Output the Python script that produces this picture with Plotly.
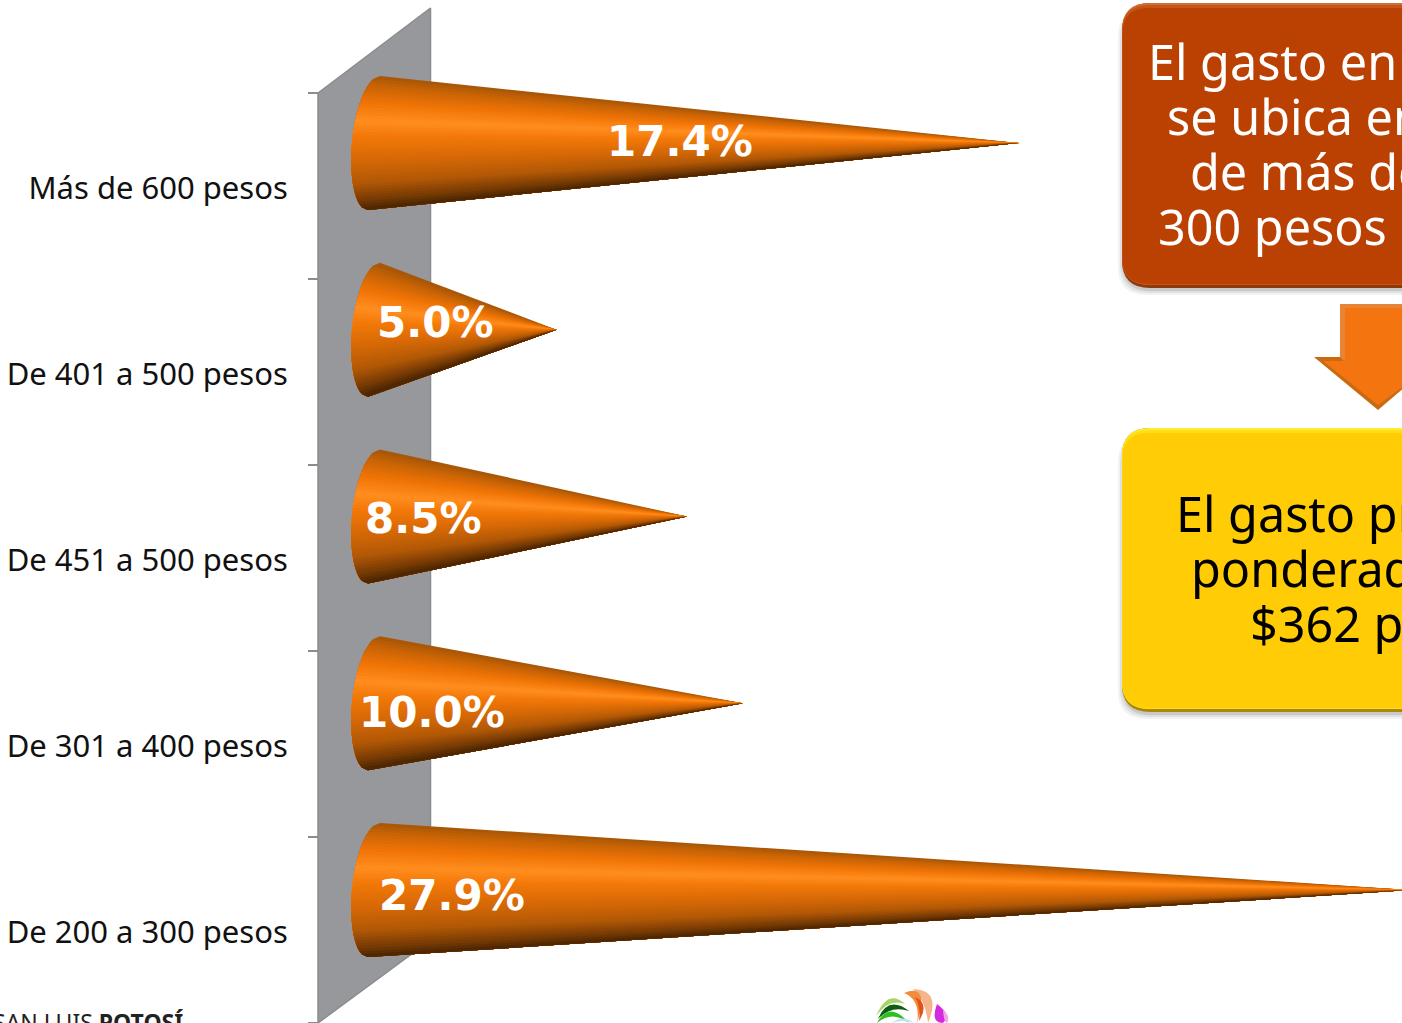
import plotly.graph_objects as go

# ---- data ----
categories = ["De 200 a 300 pesos", "De 301 a 400 pesos", "De 451 a 500 pesos",
              "De 401 a 500 pesos", "Más de 600 pesos"]
values = [27.9, 10.0, 8.5, 5.0, 17.4]
value_labels = ["27.9%", "10.0%", "8.5%", "5.0%", "17.4%"]
label_x_values = [2.2, 1.67, 1.43, 1.75, 8.3]
label_y_offsets = [-0.03, -0.05, -0.01, 0.04, 0.01]

box1_lines = ["El gasto en", "se ubica en", "de más de", "300 pesos"]
box2_lines = ["El gasto promedio", "ponderado", "$362 pesos"]

# ---- layout constants ----
W, H = 1402, 1023
PX_PER_VAL = 37.3
X0_PX = 370
PX_PER_CAT = 186.75
Y0_PX = 890


def xd(px):
    return (px - X0_PX) / PX_PER_VAL


def yd(px):
    return (Y0_PX - px) / PX_PER_CAT


def xp(px):
    return px / W


def yp(px):
    return 1 - px / H


def lerp_color(stops, f):
    for (a, ca), (b, cb) in zip(stops, stops[1:]):
        if f <= b:
            t = (f - a) / (b - a)
            c = [round(ca[k] + (cb[k] - ca[k]) * t) for k in range(3)]
            return f"rgb({c[0]},{c[1]},{c[2]})"
    c = stops[-1][1]
    return f"rgb({c[0]},{c[1]},{c[2]})"


GRAD = [(0.0, (165, 86, 8)), (0.07, (200, 100, 5)), (0.2, (240, 116, 6)), (0.33, (255, 142, 30)),
        (0.45, (242, 120, 8)), (0.62, (215, 105, 6)), (0.8, (178, 88, 6)),
        (0.93, (118, 58, 4)), (1.0, (72, 36, 2))]

fig = go.Figure()

# wall
wall_x = [xd(318), xd(430.5), xd(430.5), xd(318), xd(318)]
wall_y = [yd(93), yd(8), yd(940), yd(1023), yd(93)]
fig.add_trace(go.Scatter(x=wall_x, y=wall_y, mode="lines", fill="toself", fillcolor="#97989C",
                         line=dict(color="#8B8C90", width=1.5), hoverinfo="skip", showlegend=False))

# cones: painted top to bottom, each layer reaching down to the cone's lower edge
BANDS = 48
HALF = 67 / PX_PER_CAT
CX = (374 - X0_PX) / PX_PER_VAL
DEPTH = 22 / PX_PER_VAL
TILT = 6 / PX_PER_VAL


def base_point(i, s):
    c = max(0.0, 1 - s * s) ** 0.5
    return CX - DEPTH * c + TILT * s, i + HALF * s


for i, v in enumerate(values):
    for b in range(BANDS):
        s1 = 1 - 2 * b / BANDS
        steps = BANDS - b
        pts = [base_point(i, s1 - (s1 + 1) * k / steps) for k in range(steps + 1)]
        xs = [p[0] for p in pts] + [v, pts[0][0]]
        ys = [p[1] for p in pts] + [i, pts[0][1]]
        col = lerp_color(GRAD, (b + 0.5) / BANDS)
        fig.add_trace(go.Scatter(x=xs, y=ys, mode="lines", fill="toself", fillcolor=col,
                                 line=dict(width=0), hoverinfo="skip", showlegend=False))

# helper trace for the boundary ticks
fig.add_trace(go.Scatter(x=[0], y=[0], yaxis="y2", mode="markers", marker=dict(opacity=0),
                         hoverinfo="skip", showlegend=False))

shapes = []


def rrect(x0, y0, x1, y1, r):
    X0, X1 = xp(x0), xp(x1)
    Y0, Y1 = yp(y0), yp(y1)
    rx, ry = r / W, r / H
    return (f"M {X0 + rx} {Y0} L {X1 - rx} {Y0} Q {X1} {Y0} {X1} {Y0 - ry} L {X1} {Y1 + ry} "
            f"Q {X1} {Y1} {X1 - rx} {Y1} L {X0 + rx} {Y1} Q {X0} {Y1} {X0} {Y1 + ry} L {X0} {Y0 - ry} "
            f"Q {X0} {Y0} {X0 + rx} {Y0} Z")


def add(path, fill, opacity=1.0):
    shapes.append(dict(type="path", xref="paper", yref="paper", path=path, fillcolor=fill,
                       opacity=opacity, line=dict(width=0), layer="above"))


def poly(points):
    return "M " + " L ".join(f"{xp(a)} {yp(b)}" for a, b in points) + " Z"


def crescent(p0, c1, p1, c2, fill):
    path = "M %f %f Q %f %f %f %f Q %f %f %f %f Z" % (
        xp(p0[0]), yp(p0[1]), xp(c1[0]), yp(c1[1]), xp(p1[0]), yp(p1[1]),
        xp(c2[0]), yp(c2[1]), xp(p0[0]), yp(p0[1]))
    add(path, fill)


def box(y0, y1, base, top, mid, bottom):
    for d, op in ((7, 0.05), (5, 0.07), (3, 0.10)):
        add(rrect(1122 - d + 3, y0 + 6, 1460, y1 + d, 28), "#000000", op)
    add(rrect(1122, y0, 1460, y1, 28), bottom)
    add(rrect(1122, y0, 1460, y1 - 3, 28), top)
    add(rrect(1122, y0 + 2, 1460, y1 - 3, 27), mid)
    add(rrect(1122.5, y0 + 5, 1460, y1 - 4, 26), base)


box(3, 288, "#BB4103", "#D07030", "#C4551A", "#8A3A0C")
box(428, 712, "#FFCC05", "#FFEC30", "#FFDC18", "#A98708")

# arrow
add(poly([(1340, 304), (1440, 304), (1440, 357), (1378, 410), (1314, 357), (1340, 357)]), "#C76A12")
add(poly([(1340, 304), (1402, 304), (1402, 308), (1345, 308), (1345, 362), (1340, 357)]), "#E88436")
add(poly([(1345, 308), (1440, 308), (1440, 360), (1378, 405), (1323, 361), (1345, 361)]), "#F47410")

# logo
crescent((876, 1016), (888, 988), (905, 1004), (889, 998), "#A9D468")
crescent((878, 1019), (888, 995), (909, 1011), (891, 1005), "#0F5C14")
crescent((877, 1023), (889, 1000), (909, 1023), (892, 1010), "#2FBF1E")
crescent((892, 1023), (902, 1014), (914, 1023), (902, 1019), "#BDE3F2")
crescent((913, 989), (942, 990), (928, 1023), (926, 1001), "#F5B48A")
crescent((904, 993), (930, 982), (917, 1023), (921, 1000), "#F28B3C")
crescent((915, 997), (930, 1003), (919, 1021), (921, 1007), "#E2531A")
crescent((937, 1004), (952, 1015), (943, 1023), (930, 1023), "#D42BE0")
crescent((943, 1010), (951, 1016), (947, 1023), (944, 1023), "#F0A6E8")

annotations = []


def text(x, y, s, size, color, anchor="left", family="Noto Sans"):
    annotations.append(dict(xref="paper", yref="paper", x=xp(x), y=yp(y), text=s, showarrow=False,
                            xanchor=anchor, yanchor="middle", align=anchor,
                            font=dict(family=family, size=size, color=color)))


for line, lx, ly in zip(box1_lines, [1146, 1165, 1188, 1156], [61, 116, 171, 226]):
    text(lx, ly, line, 48.5, "#FFFFFF")
for line, lx, ly in zip(box2_lines, [1174, 1189, 1248], [513, 568, 623]):
    text(lx, ly, line, 48.5, "#000000")
text(185, 1022, "SAN LUIS <b>POTOSÍ</b>", 23, "#222222", anchor="right")

for i, (lab, lx, off) in enumerate(zip(value_labels, label_x_values, label_y_offsets)):
    annotations.append(dict(x=lx, y=i + off, xref="x", yref="y", text=f"<b>{lab}</b>", showarrow=False,
                            font=dict(family="DejaVu Sans", size=42, color="#FFFFFF")))

label_positions = [yd(932 - 186 * i) for i in range(len(categories))]
tick_positions = [yd(1023)] + [yd(837 - 186 * i) for i in range(len(categories))]

fig.update_layout(
    width=W, height=H, autosize=False,
    margin=dict(l=0, r=0, t=0, b=0),
    paper_bgcolor="#FFFFFF", plot_bgcolor="#FFFFFF",
    showlegend=False,
    xaxis=dict(range=[xd(0), xd(W)], visible=False, domain=[0, 1], fixedrange=True),
    yaxis=dict(range=[yd(H), yd(0)], anchor="free", position=xp(318), side="left",
               tickmode="array", tickvals=label_positions, ticktext=categories,
               ticks="outside", ticklen=24, tickcolor="rgba(0,0,0,0)",
               showgrid=False, zeroline=False, showline=False, automargin=False,
               tickfont=dict(family="Noto Sans", size=31, color="#111111"), fixedrange=True),
    yaxis2=dict(range=[yd(H), yd(0)], overlaying="y", anchor="free", position=xp(318), side="left",
                tickmode="array", tickvals=tick_positions, showticklabels=False,
                ticks="outside", ticklen=10, tickwidth=1.5, tickcolor="#8B8C90",
                showgrid=False, zeroline=False, showline=False, automargin=False, fixedrange=True),
    shapes=shapes, annotations=annotations,
)

fig.write_html("out.html", config=dict(displayModeBar=False),
               post_script="document.body.style.margin='0';document.body.style.overflow='hidden';")
